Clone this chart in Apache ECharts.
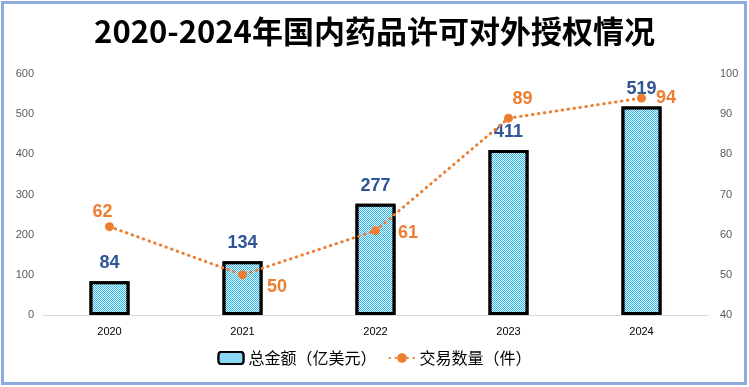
<!DOCTYPE html>
<html><head><meta charset="utf-8">
<script src="https://cdn.jsdelivr.net/npm/echarts@6/dist/echarts.min.js"></script>
<style>html,body{margin:0;padding:0;background:#fff}#c{width:749px;height:387px}</style>
</head><body><div id="c"></div>
<script>
const titleText = '2020-2024年国内药品许可对外授权情况';
const categories = ['2020', '2021', '2022', '2023', '2024'];
const amountValues = [84, 134, 277, 411, 519];
const dealCounts = [62, 50, 61, 89, 94];
const leftTicks = [0, 100, 200, 300, 400, 500, 600];
const rightTicks = [40, 50, 60, 70, 80, 90, 100];
const barName = '总金额（亿美元）';
const lineName = '交易数量（件）';

// label placements for line points (style, not data)
const linePlacement = [
  {position: 'top', offset: [-7, 5]},
  {position: 'right', offset: [14, 12]},
  {position: 'right', offset: [12, 2]},
  {position: 'top', offset: [14, 0]},
  {position: 'right', offset: [4, 0]}
];

const chart = echarts.init(document.getElementById('c'), null, {renderer: 'canvas'});
const numFont = '"Liberation Sans", Arial, sans-serif';
const cjk = '"Noto Sans CJK SC", sans-serif';
chart.setOption({
  animation: false,
  backgroundColor: '#fff',
  aria: {enabled: true, label: {enabled: false}, decal: {show: true}},
  title: {
    text: titleText, left: 'center', top: 11,
    textStyle: {fontFamily: cjk, fontWeight: 'bold', fontSize: 31, color: '#000'}
  },
  graphic: [{
    type: 'rect', shape: {x: 2.5, y: 2.5, width: 743, height: 381},
    style: {fill: 'none', stroke: '#8FAADC', lineWidth: 3}, silent: true, z: 100
  }],
  legend: {
    bottom: 16, left: 'center', itemGap: 12, itemWidth: 25, itemHeight: 12,
    textStyle: {fontFamily: cjk, fontSize: 16, color: '#000'},
    data: [barName, lineName]
  },
  grid: {left: 43, right: 41, top: 74, bottom: 72},
  xAxis: {
    type: 'category', data: categories,
    axisLine: {lineStyle: {color: '#D9D9D9', width: 1}},
    axisTick: {show: false},
    axisLabel: {color: '#000', fontSize: 11, margin: 11, fontFamily: numFont}
  },
  yAxis: [{
    type: 'value', min: leftTicks[0], max: leftTicks[leftTicks.length - 1], interval: 100,
    axisLine: {show: false}, axisTick: {show: false}, splitLine: {show: false},
    axisLabel: {color: '#595959', fontSize: 11, margin: 9, fontFamily: numFont}
  }, {
    type: 'value', min: rightTicks[0], max: rightTicks[rightTicks.length - 1], interval: 10,
    axisLine: {show: false}, axisTick: {show: false}, splitLine: {show: false},
    axisLabel: {color: '#595959', fontSize: 11, margin: 12, fontFamily: numFont}
  }],
  series: [{
    name: barName, type: 'bar', data: amountValues, barWidth: 40, z: 2,
    itemStyle: {
      color: '#2AB8EE', borderColor: '#000', borderWidth: 3,
      decal: {
        symbol: 'rect', symbolSize: 1, color: 'rgba(255,255,255,0.9)',
        dashArrayX: [[1, 1], [0, 1, 1, 0]], dashArrayY: [1, 0], rotation: 0
      }
    },
    label: {show: true, position: 'top', distance: 9, color: '#2F5597', fontWeight: 'bold', fontSize: 18, fontFamily: numFont}
  }, {
    name: lineName, type: 'line', yAxisIndex: 1, z: 5,
    data: dealCounts.map((v, i) => ({
      value: v,
      label: {position: linePlacement[i].position, offset: linePlacement[i].offset}
    })),
    symbol: 'circle', symbolSize: 9,
    itemStyle: {color: '#ED7D31', decal: {symbol: 'none'}},
    lineStyle: {color: '#ED7D31', width: 3, type: [0.5, 5.5], cap: 'round'},
    label: {show: true, distance: 6, color: '#ED7D31', fontWeight: 'bold', fontSize: 18, fontFamily: numFont}
  }]
});
</script></body></html>
